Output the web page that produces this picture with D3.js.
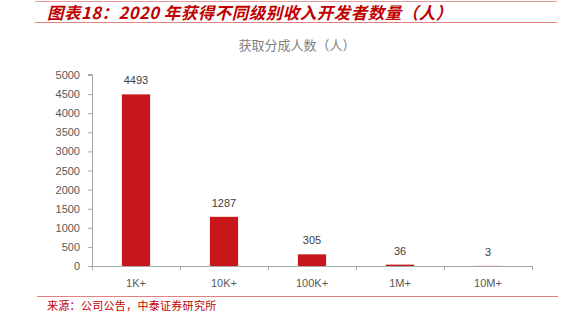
<!DOCTYPE html>
<html>
<head>
<meta charset="utf-8">
<script src="https://cdn.jsdelivr.net/npm/d3@7/dist/d3.min.js"></script>
<style>
  html, body { margin: 0; padding: 0; background: #fff; }
  svg { display: block; }
</style>
</head>
<body>
<svg id="chart" width="572" height="326"></svg>
<script>
// Revenue tiers and developer counts for 2020
const categories = ["1K+", "10K+", "100K+", "1M+", "10M+"];
const counts = [4493, 1287, 305, 36, 3];
const yTicks = [0, 500, 1000, 1500, 2000, 2500, 3000, 3500, 4000, 4500, 5000];

const svg = d3.select("#chart");
const red = "#c8171b";
const axisGray = "#a6a6a6";
const textGray = "#595959";
const font = "'Liberation Sans', Arial, sans-serif";
const cjk = "'Noto Sans CJK SC', sans-serif";

// Header rules and title
svg.append("line").attr("x1", 35).attr("x2", 557).attr("y1", 1.5).attr("y2", 1.5)
  .attr("stroke", "#e59a9a").attr("stroke-width", 1);
svg.append("line").attr("x1", 35).attr("x2", 557).attr("y1", 22.5).attr("y2", 22.5)
  .attr("stroke", "#e08080").attr("stroke-width", 1);
svg.append("text").attr("x", 47).attr("y", 19)
  .attr("font-family", cjk).attr("font-size", 16.5).attr("font-weight", "bold")
  .attr("font-style", "italic").attr("fill", "#c00000")
  .attr("letter-spacing", 0.5)
  .text("图表18：2020 年获得不同级别收入开发者数量（人）");

// Chart title
svg.append("text").attr("x", 297).attr("y", 50).attr("text-anchor", "middle")
  .attr("font-family", cjk).attr("font-size", 13).attr("fill", "#7f7f7f")
  .text("获取分成人数（人）");

// Scales
const x = d3.scaleBand().domain(categories).range([92, 532]).paddingInner(0.68).paddingOuter(0.34);
const y = d3.scaleLinear().domain([0, 5000]).range([266, 75]);

// Y axis
const yAxis = svg.append("g").attr("transform", "translate(92,0)")
  .call(d3.axisLeft(y).tickValues(yTicks).tickSize(4).tickPadding(8).tickFormat(d3.format("d")));
yAxis.select(".domain").attr("stroke", axisGray).attr("d", "M-4,266.5H0.5V74.5H-4");
yAxis.selectAll(".tick line").attr("stroke", axisGray);
yAxis.selectAll(".tick text").attr("font-family", font).attr("font-size", 11).attr("fill", textGray);

// Bars
svg.append("g").selectAll("rect").data(counts).join("rect")
  .attr("x", (d, i) => x(categories[i]))
  .attr("width", x.bandwidth())
  .attr("y", d => y(d))
  .attr("height", d => y(0) - y(d))
  .attr("fill", red);

// X axis with ticks on category boundaries
const xg = svg.append("g");
xg.append("line").attr("x1", 92).attr("x2", 532).attr("y1", 266.5).attr("y2", 266.5).attr("stroke", axisGray);
const step = x.step();
const bounds = d3.range(categories.length + 1).map(i => 92 + i * step);
xg.selectAll(".tk").data(bounds).join("line")
  .attr("x1", d => Math.round(d) + 0.5).attr("x2", d => Math.round(d) + 0.5)
  .attr("y1", 266).attr("y2", 270).attr("stroke", axisGray);
xg.selectAll(".lbl").data(categories).join("text")
  .attr("x", d => x(d) + x.bandwidth() / 2).attr("y", 287).attr("text-anchor", "middle")
  .attr("font-family", font).attr("font-size", 11).attr("fill", textGray)
  .text(d => d);

// Value labels
svg.append("g").selectAll("text").data(counts).join("text")
  .attr("x", (d, i) => x(categories[i]) + x.bandwidth() / 2)
  .attr("y", d => y(d) - 10).attr("text-anchor", "middle")
  .attr("font-family", font).attr("font-size", 11).attr("fill", "#404040")
  .text(d => d);

// Footer rule and source
svg.append("line").attr("x1", 37).attr("x2", 558).attr("y1", 296.5).attr("y2", 296.5)
  .attr("stroke", "#e08080").attr("stroke-width", 1);
svg.append("text").attr("x", 47).attr("y", 310)
  .attr("font-family", cjk).attr("font-size", 11).attr("fill", "#c00000")
  .attr("letter-spacing", 0.3)
  .text("来源：公司公告，中泰证券研究所");
</script>
</body>
</html>
